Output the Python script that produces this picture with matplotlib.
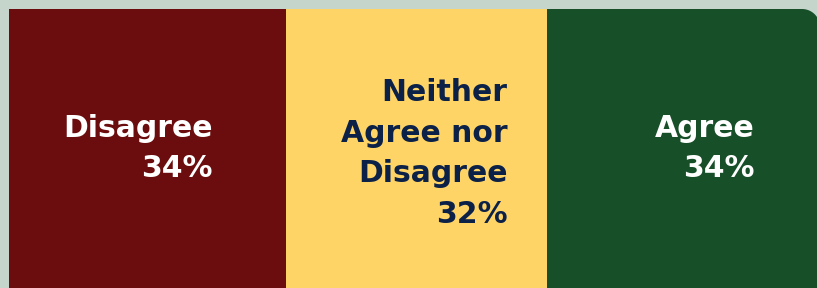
import numpy as np
import matplotlib.pyplot as plt
from matplotlib.path import Path
from matplotlib.patches import PathPatch

# shares, labels as printed
categories = ["Disagree", "Neither\nAgree nor\nDisagree", "Agree"]
shares = [34.2, 32.1, 33.7]
pct_labels = ["34%", "32%", "34%"]

colors = ["#6b0d0e", "#fed466", "#174f29"]
text_colors = ["white", "#0c2147", "white"]
right_pad_px = [74, 39, 65]  # gap between label and segment's right edge
down_px = [0, 5, 0]          # small vertical nudge of each label block

W, H = 817, 288
fig = plt.figure(figsize=(W / 100, H / 100), dpi=100)
fig.patch.set_facecolor("#c5d5cb")

# bar box: starts at (9, 9) px, runs past the bottom, ends ~820 px on the right
left_px, top_px, right_px = 9, 9, 820
ax = fig.add_axes([left_px / W, 0, (right_px - left_px) / W, (H - top_px) / H])
ax.set_xlim(0, sum(shares))
ax.set_ylim(-0.5, 0.5)
ax.axis("off")

# clip path: square corners except a rounded top-right
box_w = right_px - left_px
box_h = H - top_px
r = 18
rx, ry = r / box_w, r / box_h
t = np.linspace(0, np.pi / 2, 20)
arc = np.column_stack([1 - rx + rx * np.cos(t), 1 - ry + ry * np.sin(t)])
verts = np.vstack([[0, 0], [1, 0], arc, [0, 1], [0, 0]])
codes = [Path.MOVETO] + [Path.LINETO] * (len(verts) - 2) + [Path.CLOSEPOLY]
clip = PathPatch(Path(verts, codes), transform=ax.transAxes, facecolor="none", edgecolor="none")
ax.add_patch(clip)

lefts = np.concatenate([[0], np.cumsum(shares)[:-1]])
bars = ax.barh(0, shares, left=lefts, height=1, color=colors, linewidth=0)
for b in bars:
    b.set_clip_path(clip)

for i in range(len(shares)):
    ax.annotate(categories[i] + "\n" + pct_labels[i],
                xy=(lefts[i] + shares[i], 0),
                xytext=(-right_pad_px[i] * 0.72, -down_px[i] * 0.72),
                textcoords="offset points", ha="right", va="center", multialignment="right",
                fontsize=21.5, fontweight="bold", family="DejaVu Sans",
                color=text_colors[i], linespacing=1.52)

fig.savefig("out.png", dpi=100, facecolor=fig.get_facecolor())
